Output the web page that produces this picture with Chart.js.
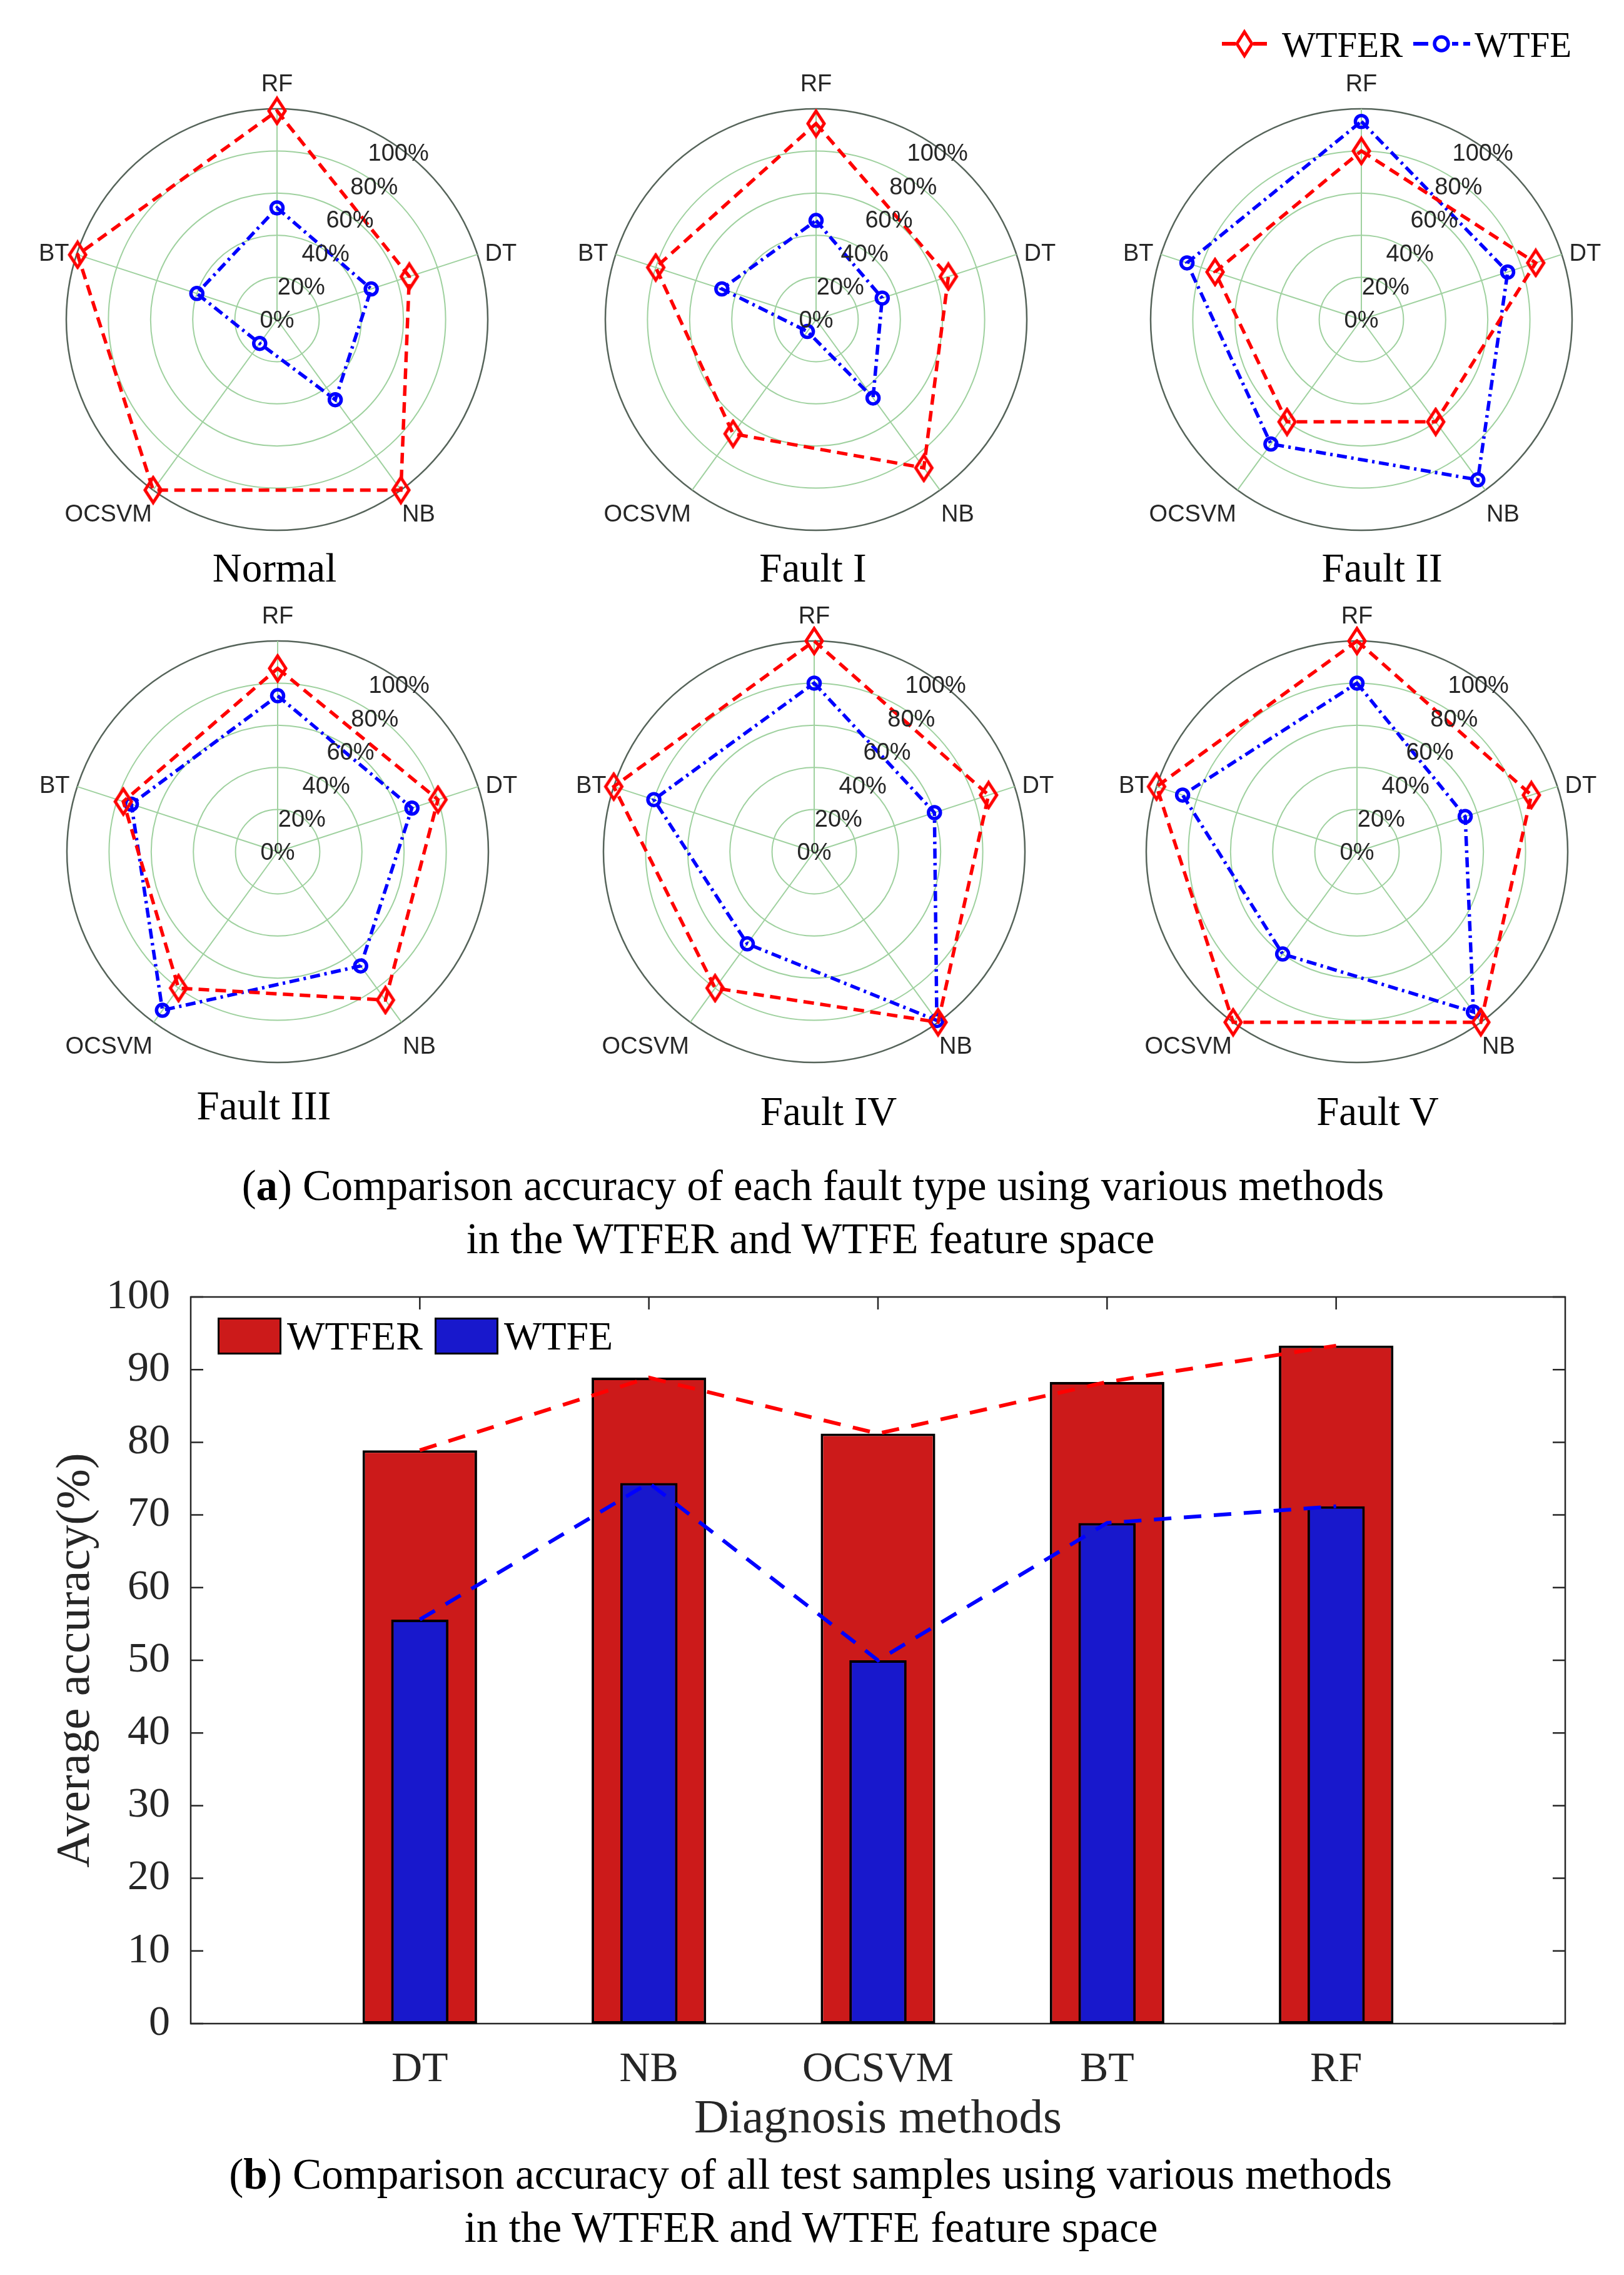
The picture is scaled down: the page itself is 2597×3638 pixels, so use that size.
<!DOCTYPE html>
<html>
<head>
<meta charset="utf-8">
<title>WTFER / WTFE accuracy comparison</title>
<script src="https://cdn.jsdelivr.net/npm/chart.js@4.4.0/dist/chart.umd.min.js"></script>
<style>
  body { margin: 0; background: #fff; }
  #page { position: relative; width: 2597px; height: 3638px; overflow: hidden; background: #fff; }
  canvas, .abs { position: absolute; }
  .txt { position: absolute; line-height: 1; white-space: nowrap; color: #000;
         font-family: "Liberation Serif", "Times New Roman", serif; }
  .c { transform: translate(-50%, -50%); }
  .l { transform: translateY(-50%); }
  .title { font-size: 65px; }
  .cap { font-size: 62px; }
  .box { position: absolute; box-sizing: border-box; border: 3px solid #000; }
</style>
</head>
<body>
<div id="page">
  <!-- radar legend -->
  <svg class="abs" style="left:1954px; top:46px" width="72" height="48">
    <line x1="0" y1="24" x2="22" y2="24" stroke="#ff0000" stroke-width="6"/>
    <line x1="50" y1="24" x2="72" y2="24" stroke="#ff0000" stroke-width="6"/>
    <polygon points="36,5 48,24 36,43 24,24" fill="none" stroke="#ff0000" stroke-width="5"/>
  </svg>
  <div class="txt l" style="left:2050px; top:71px; font-size:57px">WTFER</div>
  <svg class="abs" style="left:2260px; top:46px" width="92" height="48">
    <line x1="0" y1="24" x2="24" y2="24" stroke="#0000ff" stroke-width="6"/>
    <line x1="62" y1="24" x2="72" y2="24" stroke="#0000ff" stroke-width="6"/>
    <line x1="80" y1="24" x2="91" y2="24" stroke="#0000ff" stroke-width="6"/>
    <circle cx="45" cy="24" r="11" fill="none" stroke="#0000ff" stroke-width="5.5"/>
  </svg>
  <div class="txt l" style="left:2358px; top:71px; font-size:57px">WTFE</div>

  <canvas id="r0" width="860" height="860"></canvas>
  <canvas id="r1" width="860" height="860"></canvas>
  <canvas id="r2" width="860" height="860"></canvas>
  <canvas id="r3" width="860" height="860"></canvas>
  <canvas id="r4" width="860" height="860"></canvas>
  <canvas id="r5" width="860" height="860"></canvas>

  <div class="txt c title" style="left:439px; top:908px">Normal</div>
  <div class="txt c title" style="left:1300px; top:908px">Fault I</div>
  <div class="txt c title" style="left:2210px; top:908px">Fault II</div>
  <div class="txt c title" style="left:422px; top:1768px">Fault III</div>
  <div class="txt c title" style="left:1325px; top:1777px">Fault IV</div>
  <div class="txt c title" style="left:2203px; top:1777px">Fault V</div>

  <div id="capA1" class="txt c cap" style="left:1300px; top:1896px">(<b>a</b>) Comparison accuracy of each fault type using various methods</div>
  <div id="capA2" class="txt c cap" style="left:1296px; top:1981px">in the WTFER and WTFE feature space</div>

  <canvas id="bars" width="2597" height="1450" style="left:0; top:2000px"></canvas>

  <!-- bar legend -->
  <div class="box" style="left:348px; top:2107px; width:102px; height:59px; background:#cc1a1a"></div>
  <div class="txt l" style="left:459px; top:2137px; font-size:64px">WTFER</div>
  <div class="box" style="left:695px; top:2107px; width:102px; height:59px; background:#1818cc"></div>
  <div class="txt l" style="left:806px; top:2137px; font-size:64px">WTFE</div>

  <div id="capB1" class="txt c cap" style="left:1296px; top:3477px">(<b>b</b>) Comparison accuracy of all test samples using various methods</div>
  <div id="capB2" class="txt c cap" style="left:1297px; top:3562px">in the WTFER and WTFE feature space</div>
</div>

<script>
// radar axes, clockwise from the top
const methods = ['RF', 'DT', 'NB', 'OCSVM', 'BT'];
const radarTicks = [0, 20, 40, 60, 80, 100];

// per fault type accuracy (%), in the order of `methods`
const wtferNormal = [99, 66, 100, 100, 99.5];
const wtfeNormal = [53, 47, 47, 14, 40];
const wtferFault1 = [93, 66, 87, 67, 80];
const wtfeFault1 = [47, 33, 46, 7, 47];
const wtferFault2 = [80, 87, 60, 60, 73];
const wtfeFault2 = [94, 73, 94, 73, 87];
const wtferFault3 = [87, 80, 87, 80, 77];
const wtfeFault3 = [74, 67, 67, 93, 73];
const wtferFault4 = [100, 87, 100, 80, 100];
const wtfeFault4 = [80, 60, 99, 54, 80];
const wtferFault5 = [100, 87, 100, 100, 100];
const wtfeFault5 = [80, 54, 94, 60, 87];

// average accuracy over all test samples
const barMethods = ['DT', 'NB', 'OCSVM', 'BT', 'RF'];
const avgWTFER = [78.9, 88.9, 81.2, 88.3, 93.3];
const avgWTFE = [55.6, 74.4, 50.0, 68.9, 71.2];
const barTicks = [0, 10, 20, 30, 40, 50, 60, 70, 80, 90, 100];

const RED = '#ff0000';
const BLUE = '#0000ff';
const GREEN = '#9fd19f';
const SANS = '"Liberation Sans", Arial, sans-serif';
const SERIF = '"Liberation Serif", "Times New Roman", serif';

// tall diamond marker like MATLAB's 'd'
function makeDiamond() {
    const c = document.createElement('canvas');
    c.width = 36;
    c.height = 48;
    const g = c.getContext('2d');
    g.strokeStyle = RED;
    g.lineWidth = 5;
    g.beginPath();
    g.moveTo(18, 4);
    g.lineTo(31, 24);
    g.lineTo(18, 44);
    g.lineTo(5, 24);
    g.closePath();
    g.stroke();
    return c;
}
const diamond = makeDiamond();

// axis names and percentage labels, placed from the radial scale
const radarText = {
    id: 'radarText',
    afterDraw(chart) {
        const r = chart.scales.r;
        const ctx = chart.ctx;
        ctx.save();
        ctx.fillStyle = '#262626';
        ctx.font = '38px ' + SANS;
        ctx.textBaseline = 'middle';
        methods.forEach((m, i) => {
            const p = r.getPointPosition(i, r.drawingArea);
            if (i === 0) { ctx.textAlign = 'center'; ctx.fillText(m, p.x, p.y - 38); }
            if (i === 1) { ctx.textAlign = 'left'; ctx.fillText(m, p.x + 12, p.y); }
            if (i === 2) { ctx.textAlign = 'left'; ctx.fillText(m, p.x + 2, p.y + 40); }
            if (i === 3) { ctx.textAlign = 'right'; ctx.fillText(m, p.x - 2, p.y + 40); }
            if (i === 4) { ctx.textAlign = 'right'; ctx.fillText(m, p.x - 12, p.y); }
        });
        const a = 36 * Math.PI / 180;
        ctx.textAlign = 'center';
        radarTicks.forEach(v => {
            const d = r.getDistanceFromCenterForValue(v) * 0.98;
            ctx.fillText(v + '%', r.xCenter + Math.sin(a) * d, r.yCenter - Math.cos(a) * d + 3);
        });
        ctx.restore();
    }
};

function radarChart(id, cx, cy, wtfer, wtfe) {
    const el = document.getElementById(id);
    el.style.left = (cx - 430) + 'px';
    el.style.top = (cy - 430) + 'px';
    return new Chart(el, {
        type: 'radar',
        data: {
            labels: methods,
            datasets: [{
                label: 'WTFER',
                data: wtfer,
                borderColor: RED,
                borderWidth: 5.5,
                borderDash: [17, 10],
                fill: false,
                clip: false,
                pointStyle: diamond,
                pointRadius: 14
            }, {
                label: 'WTFE',
                data: wtfe,
                borderColor: BLUE,
                borderWidth: 5.5,
                borderDash: [16, 7, 4, 7],
                fill: false,
                clip: false,
                pointStyle: 'circle',
                pointRadius: 9.5,
                pointBorderWidth: 5.5,
                pointBorderColor: BLUE,
                pointBackgroundColor: 'rgba(0,0,0,0)'
            }]
        },
        options: {
            responsive: false,
            animation: false,
            layout: { padding: 93 },
            elements: { line: { tension: 0 } },
            plugins: { legend: { display: false }, tooltip: { enabled: false } },
            scales: {
                r: {
                    min: 0,
                    max: 100,
                    startAngle: 0,
                    ticks: { stepSize: 20, display: false },
                    grid: {
                        circular: true,
                        color: c => c.tick.value === 100 ? '#56645a' : GREEN,
                        lineWidth: c => c.tick.value === 100 ? 2.5 : 2
                    },
                    angleLines: { color: GREEN, lineWidth: 2 },
                    pointLabels: { display: false }
                }
            }
        },
        plugins: [radarText]
    });
}

radarChart('r0', 443, 511, wtferNormal, wtfeNormal);
radarChart('r1', 1305, 511, wtferFault1, wtfeFault1);
radarChart('r2', 2177, 511, wtferFault2, wtfeFault2);
radarChart('r3', 444, 1362, wtferFault3, wtfeFault3);
radarChart('r4', 1302, 1362, wtferFault4, wtfeFault4);
radarChart('r5', 2170, 1362, wtferFault5, wtfeFault5);

// box with inward ticks, drawn under the bars
const frameTicks = {
    id: 'frameTicks',
    beforeDatasetsDraw(chart) {
        const { ctx, chartArea: a, scales: { x, y } } = chart;
        const len = 20;
        ctx.save();
        ctx.strokeStyle = '#262626';
        ctx.lineWidth = 2.5;
        ctx.strokeRect(a.left, a.top, a.right - a.left, a.bottom - a.top);
        ctx.beginPath();
        barTicks.forEach(v => {
            const py = y.getPixelForValue(v);
            ctx.moveTo(a.left, py); ctx.lineTo(a.left + len, py);
            ctx.moveTo(a.right, py); ctx.lineTo(a.right - len, py);
        });
        barMethods.forEach((m, i) => {
            const px = x.getPixelForValue(i + 1);
            ctx.moveTo(px, a.top); ctx.lineTo(px, a.top + len);
            ctx.moveTo(px, a.bottom); ctx.lineTo(px, a.bottom - len);
        });
        ctx.stroke();
        ctx.restore();
    }
};

// one empty slot on each side, as in the original axis
const xLabels = [''].concat(barMethods, ['']);
const pad = arr => [null].concat(arr, [null]);

new Chart(document.getElementById('bars'), {
    data: {
        labels: xLabels,
        datasets: [{
            type: 'line',
            data: pad(avgWTFER),
            borderColor: RED,
            borderWidth: 6,
            borderDash: [28, 20],
            pointRadius: 0,
            order: 0
        }, {
            type: 'line',
            data: pad(avgWTFE),
            borderColor: BLUE,
            borderWidth: 6,
            borderDash: [28, 20],
            pointRadius: 0,
            order: 0
        }, {
            type: 'bar',
            label: 'WTFE',
            data: pad(avgWTFE),
            backgroundColor: '#1818cc',
            borderColor: '#000',
            borderWidth: 4,
            borderSkipped: false,
            grouped: false,
            categoryPercentage: 1,
            barPercentage: 0.25,
            order: 1
        }, {
            type: 'bar',
            label: 'WTFER',
            data: pad(avgWTFER),
            backgroundColor: '#cc1a1a',
            borderColor: '#000',
            borderWidth: 4,
            borderSkipped: false,
            grouped: false,
            categoryPercentage: 1,
            barPercentage: 0.5,
            order: 2
        }]
    },
    options: {
        responsive: false,
        animation: false,
        layout: { padding: { left: 0, right: 94, top: 74, bottom: 0 } },
        plugins: { legend: { display: false }, tooltip: { enabled: false } },
        scales: {
            x: {
                offset: false,
                grid: { display: false },
                border: { display: false },
                ticks: {
                    autoSkip: false,
                    maxRotation: 0,
                    padding: 25,
                    color: '#262626',
                    font: { family: SERIF, size: 68 }
                },
                title: {
                    display: true,
                    text: 'Diagnosis methods',
                    color: '#262626',
                    font: { family: SERIF, size: 77 },
                    padding: { top: 0, bottom: 14 }
                },
                afterFit: s => { s.height = 214; }
            },
            y: {
                min: 0,
                max: 100,
                grid: { display: false },
                border: { display: false },
                ticks: {
                    stepSize: 10,
                    autoSkip: false,
                    padding: 25,
                    color: '#262626',
                    font: { family: SERIF, size: 68 }
                },
                title: {
                    display: true,
                    text: 'Average accuracy(%)',
                    color: '#262626',
                    font: { family: SERIF, size: 77 },
                    padding: { top: 76, bottom: 0 }
                },
                afterFit: s => { s.width = 305; }
            }
        }
    },
    plugins: [frameTicks]
});

// captions: size the serif text so the first line spans the original width
function fitCaption(first, second, target) {
    const a = document.getElementById(first);
    const b = document.getElementById(second);
    const fs = parseFloat(getComputedStyle(a).fontSize);
    const size = (fs * target / a.getBoundingClientRect().width) + 'px';
    a.style.fontSize = size;
    b.style.fontSize = size;
}
fitCaption('capA1', 'capA2', 1827);
fitCaption('capB1', 'capB2', 1860);
</script>
</body>
</html>
